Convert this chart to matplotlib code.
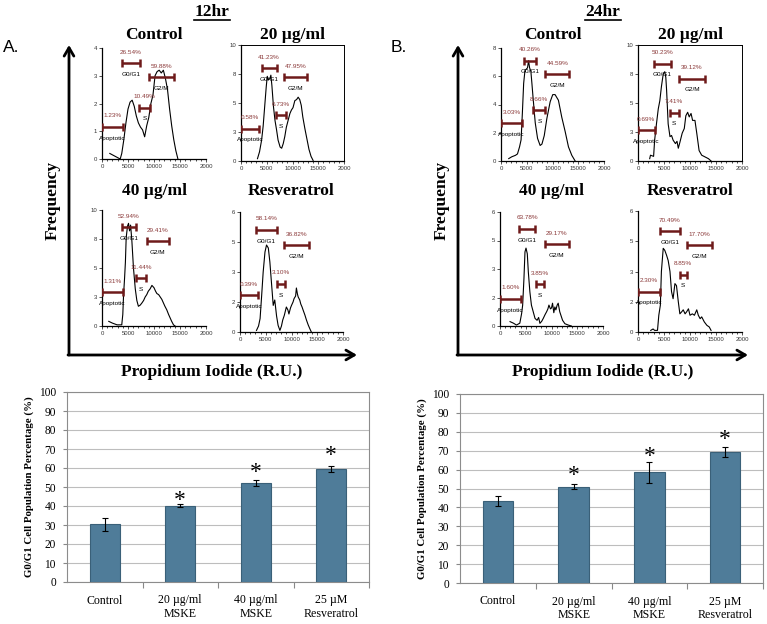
import matplotlib
matplotlib.use("Agg")
import matplotlib.pyplot as plt
from matplotlib.ticker import FixedLocator, MultipleLocator

W, H = 767, 624
SERIF = ["Liberation Serif", "DejaVu Serif"]
SANS = ["Liberation Sans", "DejaVu Sans"]
GATE_COLOR = "#6e1a1a"
PCT_COLOR = "#8b3a3a"
BAR_COLOR = "#4f7c99"

# ---- flow cytometry histograms (Propidium Iodide, R.U.) ----
GATE_NAMES = ["Apoptotic", "G0/G1", "S", "G2/M"]

# 12 hr
x_12_ctrl = [1500, 2000, 2500, 3000, 3500, 3800, 4200, 4600, 5000, 5400, 5800, 6200, 6600, 7000,
             7400, 7800, 8200, 8600, 9000, 9400, 9800, 10200, 10600, 11000, 11400, 11800, 12200,
             12600, 13000, 13400, 13800, 14200, 14600]
y_12_ctrl = [0.2, 0.15, 0.1, 0.05, 0.0, 0.2, 0.7, 1.3, 1.8, 2.05, 2.12, 1.9, 1.55, 1.3,
             1.15, 1.05, 0.8, 1.2, 1.5, 2.0, 2.3, 3.0, 3.15, 3.2, 3.1, 3.2, 2.9,
             2.5, 1.8, 1.2, 0.7, 0.3, 0.0]
x_12_20 = [3200, 3600, 4000, 4300, 4600, 4900, 5100, 5300, 5600, 5800, 6000, 6300, 6600, 6900,
           7200, 7600, 7900, 8200, 8500, 8800, 9150, 9500, 9800, 10100, 10450, 10800, 11100,
           11400, 11700, 12000, 12400, 12800, 13200, 13600, 14000]
y_12_20 = [0.2, 0.8, 1.8, 3.0, 4.7, 6.4, 7.3, 7.0, 7.1, 7.4, 6.5, 4.7, 3.5, 2.7,
           1.8, 1.2, 1.1, 1.5, 2.1, 2.9, 3.5, 4.1, 4.4, 4.6, 5.2, 5.3, 5.5,
           5.3, 4.8, 3.8, 2.8, 1.9, 1.0, 0.4, 0.05]
x_12_40 = [1300, 2000, 2900, 3800, 4000, 4150, 4350, 4500, 4650, 4900, 5100, 5300, 5500, 5750,
           6050, 6400, 6700, 7000, 7350, 7700, 8000, 8300, 8600, 8900, 9250, 9600, 10000,
           10300, 10550, 10900, 11200, 11500, 11800, 12100, 12450, 12800, 13100, 13400, 13750, 14050]
y_12_40 = [0.4, 0.25, 0.1, 0.1, 1.0, 2.7, 4.2, 5.5, 7.6, 8.6, 8.85, 8.2, 8.7, 7.3,
           5.0, 3.2, 2.2, 1.7, 1.8, 2.0, 2.2, 2.5, 2.7, 3.0, 3.2, 3.5, 3.3,
           3.0, 2.8, 2.7, 2.5, 2.3, 2.0, 1.7, 1.4, 1.0, 0.7, 0.4, 0.1, 0.0]
x_12_res = [3200, 3600, 3900, 4200, 4500, 4850, 5150, 5500, 5800, 6100, 6450, 6750, 7100, 7400,
            7750, 8050, 8300, 8600, 9000, 9300, 9500, 9800, 10000, 10300, 10500, 10800, 10950,
            11150, 11300, 11600, 11800, 12050, 12250, 12600, 12900, 13250, 13550, 13850]
y_12_res = [0.08, 0.3, 0.67, 1.8, 3.0, 4.0, 4.35, 4.2, 3.5, 2.5, 1.33, 1.6, 0.8, 0.33,
            0.08, 0.3, 0.6, 0.83, 1.25, 1.1, 0.9, 1.2, 1.33, 1.5, 1.67, 1.8, 2.2,
            1.9, 1.75, 1.6, 1.4, 1.25, 1.1, 0.85, 0.6, 0.35, 0.17, 0.0]

# 24 hr
x_24_ctrl = [1500, 2100, 2800, 3200, 3600, 3900, 4150, 4400, 4650, 4900, 5150, 5350, 5550, 5800,
             6000, 6200, 6650, 7100, 7600, 7950, 8400, 8900, 9550, 10050, 10500, 11150, 11800,
             12450, 13100, 13750, 14400]
y_24_ctrl = [0.17, 0.3, 0.4, 0.5, 1.0, 1.5, 3.4, 5.5, 6.4, 6.5, 6.6, 7.1, 6.6, 6.35,
             5.5, 4.6, 2.7, 1.6, 1.1, 1.2, 1.8, 3.0, 4.2, 4.7, 4.7, 4.3, 3.1,
             2.1, 1.0, 0.4, 0.0]
x_24_20 = [2250, 2400, 3000, 3200, 3550, 3900, 4200, 4500, 4850, 5150, 5350, 5500, 5800, 6150,
           6450, 6750, 7200, 7500, 7750, 8050, 8500, 8900, 9200, 9550, 9850, 10200, 10500,
           10950, 11300, 11750, 12250, 12900, 13550, 14050]
y_24_20 = [0.2, 0.5, 0.4, 1.8, 3.2, 4.5, 5.2, 6.4, 7.5, 7.7, 7.2, 6.1, 3.2, 2.1,
           2.2, 1.8, 1.5, 1.7, 1.1, 1.6, 2.4, 2.8, 3.9, 4.2, 3.8, 4.1, 3.5,
           3.5, 2.4, 0.9, 0.5, 0.35, 0.2, 0.0]
x_24_40 = [1950, 2600, 3200, 3850, 4200, 4400, 4650, 4850, 5050, 5300, 5500, 5800, 6100, 6450,
           6800, 7200, 7500, 7750, 8100, 8400, 8750, 9050, 9300, 9500, 9800, 10000, 10200,
           10450, 10650, 10850, 11100, 11300, 11600, 12150, 12600, 13250, 13850]
y_24_40 = [0.23, 0.15, 0.05, 0.15, 0.66, 1.1, 2.5, 3.9, 4.1, 3.8, 2.85, 1.8, 1.1, 0.75,
           0.4, 0.3, 0.45, 0.14, 0.25, 0.4, 0.6, 0.75, 0.9, 1.1, 0.9, 0.95, 1.2,
           0.7, 1.0, 0.85, 1.1, 1.2, 0.75, 0.3, 0.12, 0.05, 0.0]
x_24_res = [2450, 2900, 3200, 3750, 4000, 4300, 4500, 4850, 5150, 5500, 5800, 6150, 6450, 6750,
            7100, 7400, 7750, 8050, 8400, 8700, 9050, 9350, 9700, 10000, 10450, 10850, 11300,
            11600, 11950, 12250, 12750, 13250, 13700, 14050]
y_24_res = [0.08, 0.15, 0.08, 0.08, 0.83, 1.33, 3.0, 4.15, 4.05, 3.8, 3.55, 3.0, 2.0, 1.65,
            2.4, 2.3, 1.5, 0.9, 1.0, 1.1, 0.9, 1.0, 1.15, 0.83, 0.9, 0.83, 1.1,
            0.83, 0.66, 0.75, 0.5, 0.33, 0.25, 0.08]

# gate percentages per panel (Apoptotic, G0/G1, S, G2/M)
pct_12_ctrl = ["1.23%", "26.54%", "10.49%", "59.88%"]
pct_12_20 = ["0.58%", "41.23%", "6.73%", "47.95%"]
pct_12_40 = ["1.31%", "52.94%", "11.44%", "29.41%"]
pct_12_res = ["0.39%", "58.14%", "3.10%", "36.82%"]
pct_24_ctrl = ["3.03%", "40.26%", "8.66%", "44.59%"]
pct_24_20 = ["0.69%", "50.23%", "7.41%", "39.12%"]
pct_24_40 = ["1.60%", "63.78%", "3.85%", "29.17%"]
pct_24_res = ["2.30%", "70.49%", "8.85%", "17.70%"]

# gate ranges (lo, hi) on the PI axis, and the height the marker is drawn at
gate_lo_12_ctrl = [0, 3900, 7200, 9100]
gate_hi_12_ctrl = [3950, 7300, 9200, 13800]
gate_y_12_ctrl = [1.15, 3.45, 1.85, 2.95]
gate_lo_12_20 = [0, 4000, 6800, 8400]
gate_hi_12_20 = [3500, 6900, 8700, 12900]
gate_y_12_20 = [2.8, 8.0, 3.95, 7.2]
gate_lo_12_40 = [0, 3800, 6600, 8600]
gate_hi_12_40 = [4000, 6600, 8500, 12800]
gate_y_12_40 = [2.9, 8.5, 4.1, 7.3]
gate_lo_12_res = [0, 3200, 7100, 8500]
gate_hi_12_res = [3400, 7100, 8700, 13350]
gate_y_12_res = [1.83, 5.1, 2.4, 4.33]
gate_lo_24_ctrl = [0, 4400, 6300, 8600]
gate_hi_24_ctrl = [4050, 6850, 8600, 13300]
gate_y_24_ctrl = [2.66, 7.1, 3.6, 6.15]
gate_lo_24_20 = [0, 3100, 6100, 7850]
gate_hi_24_20 = [3200, 6250, 7850, 12900]
gate_y_24_20 = [2.65, 8.4, 4.15, 7.1]
gate_lo_24_40 = [0, 3750, 7000, 8700]
gate_hi_24_40 = [4000, 6800, 8500, 13400]
gate_y_24_40 = [1.42, 5.1, 2.2, 4.3]
gate_lo_24_res = [0, 4200, 8050, 9350]
gate_hi_24_res = [4200, 8050, 9350, 14300]
gate_y_24_res = [2.0, 5.0, 2.85, 4.3]

PI_TICKS = [0, 5000, 10000, 15000, 20000]
PI_TICK_LABELS = ["0", "5000", "10000", "15000", "2000"]
yt_4 = [0, 1, 2, 3, 4]
yl_4 = ["0", "1", "2", "3", "4"]
yt_6 = [0, 1.5, 3, 4.5, 6]
yl_6 = ["0", "2", "3", "5", "6"]
yt_8 = [0, 2, 4, 6, 8]
yl_8 = ["0", "2", "4", "6", "8"]
yt_10 = [0, 2.5, 5, 7.5, 10]
yl_10 = ["0", "3", "5", "8", "10"]

# ---- G0/G1 bar charts ----
groups = ["Control", "20 µg/ml\nMSKE", "40 µg/ml\nMSKE", "25 µM\nResveratrol"]
g0g1_12 = [30.3, 40.2, 52.0, 59.3]
err_12 = [3.5, 0.8, 1.5, 1.5]
star_12 = [None, 45.8, 60.7, 69.5]
g0g1_24 = [43.3, 51.0, 58.5, 69.3]
err_24 = [2.5, 1.2, 5.5, 2.7]
star_24 = [None, 60.0, 69.7, 78.8]


def px_axes(fig, left, top, right, bottom):
    return fig.add_axes([left / W, 1 - bottom / H, (right - left) / W, (bottom - top) / H])


def draw_hist(ax, x, y, yt, yl, lo, hi, gy, pcts, boxed):
    ax.plot(x, y, color="black", lw=0.8)
    ax.set_xlim(0, 20000)
    ax.set_ylim(0, yt[-1])
    ax.xaxis.set_major_locator(FixedLocator(PI_TICKS))
    ax.set_xticklabels(PI_TICK_LABELS)
    ax.xaxis.set_minor_locator(MultipleLocator(1000))
    ax.yaxis.set_major_locator(FixedLocator(yt))
    ax.set_yticklabels(yl)
    ax.tick_params(labelsize=4.3, length=2, width=0.6, pad=1.5, colors="#333333")
    ax.tick_params(which="minor", length=1.2, width=0.5)
    for lab in ax.get_xticklabels() + ax.get_yticklabels():
        lab.set_family(SANS)
    for s in ("left", "bottom"):
        ax.spines[s].set_linewidth(0.9)
    for s in ("top", "right"):
        ax.spines[s].set_visible(boxed)
        ax.spines[s].set_linewidth(0.7)
    for a, b, yy, name, pct in zip(lo, hi, gy, GATE_NAMES, pcts):
        ax.errorbar((a + b) / 2, yy, xerr=(b - a) / 2, fmt="none", ecolor=GATE_COLOR,
                    elinewidth=1.8, capsize=3, capthick=1.8, zorder=3)
        ax.annotate(pct, ((a + b) / 2, yy), xytext=(0, 8), textcoords="offset points",
                    ha="center", va="center", fontsize=4.6, color=PCT_COLOR, family=SANS)
        ax.annotate(name, ((a + b) / 2, yy), xytext=(0, -8), textcoords="offset points",
                    ha="center", va="center", fontsize=4.6, color="black", family=SANS)


def draw_bars(ax, vals, errs, stars):
    xs = list(range(len(groups)))
    ax.bar(xs, vals, width=0.4, color=BAR_COLOR, edgecolor="#3a6078", lw=0.8, zorder=3)
    ax.errorbar(xs, vals, yerr=errs, fmt="none", ecolor="black", elinewidth=0.8,
                capsize=2, capthick=0.8, zorder=4)
    for xi, sy in zip(xs, stars):
        if sy is not None:
            # the asterisk ink sits high in its text box, so nudge it down
            ax.annotate("*", (xi, sy), xytext=(0, -4), textcoords="offset points",
                        ha="center", va="center", fontsize=17, family=SERIF, zorder=5)
    ax.set_xlim(-0.5, len(groups) - 0.5)
    ax.set_ylim(0, 100)
    ax.set_yticks(range(0, 101, 10))
    ax.yaxis.grid(True, color="#bdbdbd", lw=0.8, zorder=0)
    ax.set_xticks(xs)
    ax.set_xticklabels(groups, family=SERIF, fontsize=8.6, linespacing=1.2)
    ax.xaxis.set_minor_locator(FixedLocator([0.5, 1.5, 2.5, 3.5]))
    ax.tick_params(axis="x", which="major", length=0, pad=9)
    ax.tick_params(axis="x", which="minor", length=4, color="#888888", width=0.8)
    ax.tick_params(axis="y", length=3, color="#888888", pad=5, labelsize=8.3)
    for lab in ax.get_yticklabels():
        lab.set_family(SERIF)
    for s in ax.spines.values():
        s.set_color("#8c8c8c")
        s.set_linewidth(0.8)
    ax.set_ylabel("G0/G1 Cell Population Percentage (%)", family=SERIF, fontsize=7.8,
                  fontweight="bold", labelpad=3)


fig = plt.figure(figsize=(W / 100, H / 100), dpi=100)
fig.patch.set_facecolor("white")

# overlay for headers and the big axis arrows
ov = fig.add_axes([0, 0, 1, 1])
ov.set_xlim(0, W)
ov.set_ylim(H, 0)
ov.axis("off")

panels = [
    # (left, top, right, bottom), title, x, y, yticks, ylabels, lo, hi, gy, pct, boxed
    ((102, 48, 206, 159), "Control", x_12_ctrl, y_12_ctrl, yt_4, yl_4,
     gate_lo_12_ctrl, gate_hi_12_ctrl, gate_y_12_ctrl, pct_12_ctrl, False),
    ((241, 45, 344, 161), "20 µg/ml", x_12_20, y_12_20, yt_10, yl_10,
     gate_lo_12_20, gate_hi_12_20, gate_y_12_20, pct_12_20, True),
    ((102, 210, 206, 326), "40 µg/ml", x_12_40, y_12_40, yt_10, yl_10,
     gate_lo_12_40, gate_hi_12_40, gate_y_12_40, pct_12_40, False),
    ((240, 212, 343, 332), "Resveratrol", x_12_res, y_12_res, yt_6, yl_6,
     gate_lo_12_res, gate_hi_12_res, gate_y_12_res, pct_12_res, False),
    ((501, 48, 604, 161), "Control", x_24_ctrl, y_24_ctrl, yt_8, yl_8,
     gate_lo_24_ctrl, gate_hi_24_ctrl, gate_y_24_ctrl, pct_24_ctrl, False),
    ((638, 45, 742, 161), "20 µg/ml", x_24_20, y_24_20, yt_10, yl_10,
     gate_lo_24_20, gate_hi_24_20, gate_y_24_20, pct_24_20, True),
    ((500, 212, 603, 326), "40 µg/ml", x_24_40, y_24_40, yt_6, yl_6,
     gate_lo_24_40, gate_hi_24_40, gate_y_24_40, pct_24_40, False),
    ((638, 211, 742, 332), "Resveratrol", x_24_res, y_24_res, yt_6, yl_6,
     gate_lo_24_res, gate_hi_24_res, gate_y_24_res, pct_24_res, False),
]
title_y = [35, 35, 191, 191, 35, 35, 191, 191]
for (box, title, x, y, yt, yl, lo, hi, gy, pct, boxed), ty in zip(panels, title_y):
    ax = px_axes(fig, *box)
    draw_hist(ax, x, y, yt, yl, lo, hi, gy, pct, boxed)
    ov.text((box[0] + box[2]) / 2, ty, title, ha="center", va="center", family=SERIF,
            fontsize=12.5, fontweight="bold")

arrow = dict(arrowstyle="->,head_length=0.6,head_width=0.35", lw=2.0, color="black",
             shrinkA=0, shrinkB=0)
for x0, x1, cx, hdr, letter, lx in [(69, 357, 212, "12hr", "A.", 3), (458, 748, 603, "24hr", "B.", 391)]:
    ov.annotate("", xy=(x0, 45), xytext=(x0, 355), arrowprops=arrow)
    ov.annotate("", xy=(x1, 355), xytext=(x0 - 1, 355), arrowprops=arrow)
    ov.text(cx, 372, "Propidium Iodide (R.U.)", ha="center", va="center", family=SERIF,
            fontsize=12.5, fontweight="bold")
    ov.text(x0 - 16, 200, "Frequency", ha="center", va="center", rotation=90, family=SERIF,
            fontsize=12.5, fontweight="bold")
    ov.text(cx, 12, hdr, ha="center", va="center", family=SERIF, fontsize=12.5,
            fontweight="bold")
    ov.plot([cx - 18, cx + 18], [20, 20], color="black", lw=1.2)
    ov.text(lx, 47, letter, ha="left", va="center", family=SANS, fontsize=12.5)

axA = px_axes(fig, 67, 392, 369, 582)
draw_bars(axA, g0g1_12, err_12, star_12)
axB = px_axes(fig, 460, 394, 763, 583)
draw_bars(axB, g0g1_24, err_24, star_24)

fig.savefig("out.png", dpi=100, facecolor="white")
